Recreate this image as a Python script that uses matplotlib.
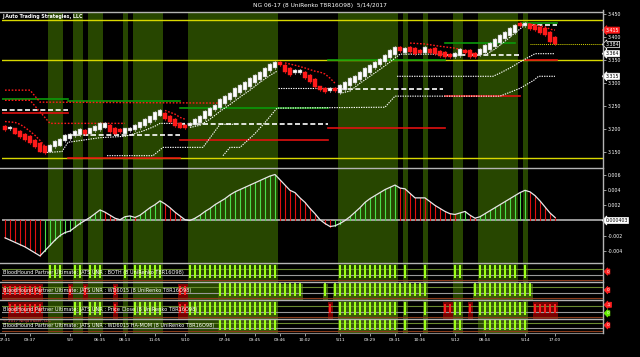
import matplotlib.pyplot as plt
from matplotlib.lines import Line2D

W, H = 640, 357

title = "NG 06-17 (8 UniRenko T8R16O98)  5/14/2017"
brand = "J Auto Trading Strategies, LLC"

# UniRenko bars
opens = [3.207, 3.200, 3.202, 3.196, 3.191, 3.185, 3.178, 3.170, 3.163, 3.152,
         3.161, 3.165, 3.174, 3.180, 3.185, 3.187, 3.198, 3.189, 3.196, 3.198,
         3.204, 3.209, 3.204, 3.200, 3.191, 3.196, 3.198, 3.202, 3.207, 3.213,
         3.220, 3.230, 3.235, 3.230, 3.222, 3.213, 3.209, 3.207, 3.209, 3.213,
         3.222, 3.230, 3.241, 3.246, 3.254, 3.263, 3.270, 3.278, 3.285, 3.291,
         3.300, 3.307, 3.313, 3.326, 3.333, 3.346, 3.339, 3.333, 3.322, 3.322,
         3.324, 3.317, 3.309, 3.293, 3.289, 3.283, 3.289, 3.278, 3.285, 3.293,
         3.300, 3.307, 3.313, 3.322, 3.333, 3.339, 3.346, 3.354, 3.361, 3.378,
         3.365, 3.378, 3.376, 3.372, 3.365, 3.374, 3.376, 3.370, 3.367, 3.363,
         3.357, 3.359, 3.372, 3.372, 3.365, 3.361, 3.365, 3.372, 3.378, 3.387,
         3.396, 3.402, 3.409, 3.430, 3.424, 3.428, 3.426, 3.422, 3.420, 3.411,
         3.400]
closes = [3.198, 3.206, 3.191, 3.183, 3.176, 3.170, 3.161, 3.152, 3.148, 3.167,
          3.174, 3.180, 3.187, 3.191, 3.196, 3.200, 3.189, 3.202, 3.207, 3.213,
          3.213, 3.194, 3.191, 3.194, 3.202, 3.204, 3.209, 3.215, 3.222, 3.228,
          3.237, 3.243, 3.222, 3.215, 3.207, 3.204, 3.202, 3.213, 3.222, 3.230,
          3.239, 3.246, 3.252, 3.265, 3.272, 3.278, 3.289, 3.296, 3.302, 3.311,
          3.317, 3.324, 3.333, 3.341, 3.346, 3.340, 3.324, 3.317, 3.328, 3.328,
          3.311, 3.302, 3.291, 3.285, 3.280, 3.289, 3.283, 3.296, 3.302, 3.311,
          3.315, 3.324, 3.333, 3.339, 3.346, 3.352, 3.361, 3.372, 3.378, 3.369,
          3.376, 3.367, 3.363, 3.365, 3.378, 3.365, 3.363, 3.359, 3.357, 3.357,
          3.365, 3.374, 3.365, 3.357, 3.357, 3.374, 3.383, 3.387, 3.396, 3.404,
          3.411, 3.420, 3.426, 3.424, 3.431, 3.417, 3.415, 3.409, 3.404, 3.389,
          3.384]

# oscillator (x 1e-4)
osc = [-23, -26, -29, -32, -35, -39, -43, -47, -40, -33, -26,
       -20, -16, -14, -9, -4, 0, 4, 9, 14, 11,
       7, 3, 1, 5, 6, 4, 7, 12, 17, 21, 26, 22, 17, 11, 6, 1,
       0, 3, 7, 12, 16, 21, 25, 29, 34, 38, 41, 44, 47, 50, 53, 56, 59, 61,
       54, 47, 40, 37, 30, 24, 16, 9,
       1, -4, -8, -7, -4, 0,
       5, 11, 17, 24, 29, 33, 37, 41, 44, 47,
       43, 42, 36, 30, 30, 30, 25, 20, 16, 12, 9, 8, 10, 12, 7, 3, 5,
       9, 13, 17, 21, 25, 29, 33, 37, 40, 38, 33, 26, 18, 10, 4]

# horizontal levels: (first bar, last bar, price)
yellow_levels = [3.437, 3.350, 3.139]
green_levels = [(-0.6, 12.6, 3.265), (12.6, 35, 3.262), (35, 64.6, 3.246),
                (64.6, 88, 3.350), (88, 102, 3.387), (103.4, 110.4, 3.430)]
white_levels = [(-0.6, 12.6, 3.243), (12.6, 35, 3.187), (35, 64.6, 3.211),
                (67, 87.6, 3.287), (88, 103, 3.361), (103.4, 110.4, 3.426)]
red_levels = [(-0.6, 12.6, 3.235), (12.6, 35, 3.139), (35, 64.6, 3.178),
              (64.6, 88, 3.202), (88, 103, 3.272), (104, 110.4, 3.350)]

# trailing stops: lists of (bar, price)
red_trails = [
    [(0, 3.285), (5, 3.285), (7, 3.259), (43, 3.257)],
    [(0, 3.263), (5, 3.263), (9, 3.213), (24, 3.213)],
    [(0, 3.217), (2, 3.215), (3, 3.211), (4, 3.204), (5, 3.196), (6, 3.187), (7, 3.176), (8, 3.163)],
    [(32, 3.241), (33, 3.237), (34, 3.233), (35, 3.226), (36, 3.222)],
    [(56, 3.344), (58, 3.339), (60, 3.333), (62, 3.326), (63, 3.324), (64, 3.320), (65, 3.311), (66, 3.300)],
    [(81, 3.387), (84, 3.385), (87, 3.380), (90, 3.376), (94, 3.363)],
    [(104, 3.430), (106, 3.426), (108, 3.422), (109, 3.417), (110, 3.415)],
]
white_trails = [
    [(8.4, 3.150), (11.4, 3.152), (12.6, 3.172), (19, 3.182), (24, 3.185), (26, 3.191),
     (28, 3.198), (30, 3.207), (31, 3.213), (36, 3.213)],
    [(20.4, 3.143), (29.6, 3.143), (31.6, 3.161), (39.6, 3.161), (43, 3.211), (45.6, 3.211)],
    [(37, 3.204), (39, 3.209), (41, 3.222), (43, 3.239), (45, 3.254), (47, 3.270),
     (49, 3.285), (51, 3.302), (53, 3.317), (54.4, 3.326)],
    [(43.6, 3.143), (45, 3.161), (47, 3.161), (50, 3.191), (52, 3.215), (54.4, 3.246),
     (76, 3.248), (78, 3.272), (99, 3.272), (103, 3.289), (105.7, 3.306), (106.7, 3.315), (110, 3.315)],
    [(54.6, 3.289), (67, 3.289)],
    [(67, 3.278), (69, 3.283), (71, 3.300), (73, 3.315), (75, 3.330), (77, 3.346), (79, 3.363), (88, 3.363)],
    [(78.4, 3.315), (97.6, 3.315), (99, 3.322), (101, 3.333), (103, 3.346), (106, 3.364), (110, 3.364)],
    [(96, 3.361), (98, 3.374), (100, 3.391), (102, 3.409), (104, 3.426)],
]

price_ticks = [3.450, 3.400, 3.350, 3.300, 3.250, 3.200, 3.150]
osc_ticks = [0.006, 0.004, 0.002, -0.002, -0.004]

# bars where BOTH is long (green columns)
both_up = [(9, 11), (14, 15), (17, 19), (24, 24), (26, 31), (37, 54), (67, 78),
           (80, 80), (84, 84), (90, 91), (95, 102), (104, 104)]

row_names = ["BloodHound Partner Ultimate: JATS UNR : BOTH (8 UniRenko T8R16O98)",
             "BloodHound Partner Ultimate: JATS UNR : WD6015 (8 UniRenko T8R16O98)",
             "BloodHound Partner Ultimate: JATS UNR : Price Close (8 UniRenko T8R16O98)",
             "BloodHound Partner Ultimate: JATS UNR : WD6015 HA-MOM (8 UniRenko T8R16O98)"]
rows_up = [both_up,
           [(43, 59), (64, 64), (66, 84), (94, 105)],
           [(14, 15), (17, 19), (26, 31), (37, 54), (67, 78), (80, 80), (84, 84), (90, 91), (95, 104)],
           [(43, 54), (67, 78), (80, 80), (84, 84), (90, 91), (96, 104)]]
rows_dn = [[],
           [(0, 7), (13, 13), (16, 16), (22, 22), (35, 36)],
           [(1, 7), (22, 22), (35, 36), (65, 65), (88, 89), (93, 93), (106, 110)],
           []]
row_tags = [[("0", "#ff2020")], [("0", "#ff2020")], [("0", "#66ee00"), ("-1", "#ff2020")], [("0", "#ff2020")]]

time_pos = [0, 5, 13, 19, 24, 30, 36, 44, 50, 55, 60, 67, 73, 78, 83, 90, 96, 104, 110]
time_lab = ["07:31", "09:37", "5/9", "06:35", "08:13", "11:05", "5/10", "07:36", "09:45",
            "09:46", "10:02", "5/11", "09:29", "09:31", "10:36", "5/12", "08:04", "5/14", "17:00"]

SHADE = "#274600"
LIME = "#9cff1a"
GRID = "#b4b4b4"

fig = plt.figure(figsize=(W / 100, H / 100), dpi=100, facecolor="black")


def add_px(y0, y1):
    ax = fig.add_axes([2 / W, 1 - y1 / H, 601 / W, (y1 - y0) / H])
    ax.set_facecolor("black")
    ax.set_xlim(-0.6, 119.6)
    for s in ax.spines.values():
        s.set_visible(False)
    ax.set_xticks([])
    ax.set_yticks([])
    for a, b in both_up:
        ax.axvspan(a - 0.5, b + 0.5, color=SHADE, lw=0, zorder=0)
    return ax


def hline_px(y, x0=0, x1=603, color=GRID, lw=1.0):
    fig.add_artist(Line2D([x0 / W, x1 / W], [1 - y / H, 1 - y / H], color=color, lw=lw))


def tag(ax, y, text, fc, tc, ec=None):
    ax.text(1.004, y, text, transform=ax.get_yaxis_transform(), fontsize=3.4, color=tc,
            va="center", ha="left",
            bbox=dict(boxstyle="larrow,pad=0.12", fc=fc, ec=ec or fc, lw=0.5))


# ---- price panel
ax = add_px(12, 167.5)
ax.set_ylim(3.1174, 3.4543)
for p in yellow_levels:
    ax.axhline(p, color="#d8d800", lw=1.0, zorder=1)
for a, b, p in green_levels:
    ax.plot([a, b], [p, p], color="#0a9a0a", lw=1.2, zorder=2)
for a, b, p in red_levels:
    ax.plot([a, b], [p, p], color="#e01010", lw=1.2, zorder=2)
for a, b, p in white_levels:
    ax.plot([a, b], [p, p], color="white", lw=1.2, ls=(0, (3, 1.6)), zorder=3)
for tr in red_trails:
    ax.plot([t[0] for t in tr], [t[1] for t in tr], color="#ff1a1a", lw=1.0,
            ls=(0, (1.2, 1.2)), zorder=3)
for tr in white_trails:
    ax.plot([t[0] for t in tr], [t[1] for t in tr], color="white", lw=0.8,
            ls=(0, (1.2, 1.0)), zorder=3)
ax.plot([105, 119.6], [closes[-1], closes[-1]], color="#d8d800", lw=0.7, ls=(0, (1, 1)), zorder=3)
for i, (o, c) in enumerate(zip(opens, closes)):
    up = c >= o
    ax.plot([i, i], [min(o, c) - 0.002, max(o, c) + 0.002], color="#c8c8c8" if up else "#ff1a1a",
            lw=0.5, zorder=3.5)
    ax.bar(i, abs(c - o), bottom=min(o, c), width=0.7,
           color="white" if up else "#ff1a1a", edgecolor="#909090" if up else "#ff1a1a",
           lw=0.3, zorder=4)
ax.yaxis.tick_right()
ax.set_yticks(price_ticks)
ax.set_yticklabels([f"{t:.3f}" for t in price_ticks])
ax.tick_params(axis="y", colors=GRID, labelcolor="white", labelsize=3.4, length=2, width=0.6, pad=1.5)
tag(ax, 3.415, "3.415", "#ff1a1a", "white")
tag(ax, 3.384, "3.384", "black", "white", "white")
tag(ax, 3.364, "3.364", "white", "black")
tag(ax, 3.315, "3.315", "white", "black")

# ---- oscillator panel
ax2 = add_px(167.5, 263)
ax2.set_ylim(-0.00564, 0.00703)
vals = [v * 1e-4 for v in osc]
for i, v in enumerate(vals):
    rising = i > 0 and v > vals[i - 1]
    ax2.plot([i, i], [0, v], color="#4ade4a" if rising else "#e01010", lw=0.8, zorder=2)
ax2.axhline(0, color=GRID, lw=1.2, zorder=1)
ax2.plot(range(len(vals)), vals, color="#e8e8e8", lw=0.9, zorder=3)
ax2.yaxis.tick_right()
ax2.set_yticks(osc_ticks)
ax2.set_yticklabels([f"{t:.3f}" for t in osc_ticks])
ax2.tick_params(axis="y", colors=GRID, labelcolor="white", labelsize=3.4, length=2, width=0.6, pad=1.5)
tag(ax2, 0.0, "0.000403", "white", "black")

# ---- indicator rows
bounds = [(263, 282), (282, 300), (300, 319), (319, 333)]
for k, (y0, y1) in enumerate(bounds):
    r = add_px(y0, y1)
    r.set_ylim(1, 0)
    if k > 0:
        for a, b in rows_up[k]:
            r.axvspan(a - 0.5, b + 0.5, ymin=0.0, ymax=0.9, color="#3c5a0a", lw=0, zorder=0.5)
    for a, b in rows_dn[k]:
        r.axvspan(a - 0.5, b + 0.5, ymin=0.0, ymax=0.9, color="#7a0000", lw=0, zorder=0.5)
    r.axhline(0.3, color="#6a8a30", lw=0.8, zorder=1)
    r.axhline(0.62, color="#9a9a9a", lw=0.8, zorder=1)
    r.axhline(0.88, color="#8a3a1a", lw=0.8, zorder=1)
    for a, b in rows_up[k]:
        for i in range(a, b + 1):
            r.bar(i, 0.72, bottom=0.08, width=0.48, color=LIME, lw=0, zorder=2)
    for a, b in rows_dn[k]:
        for i in range(a, b + 1):
            r.bar(i, 0.5, bottom=0.2, width=0.45, color="#ff2020", lw=0, zorder=2)
    r.text(0.002, 0.52, row_names[k], transform=r.transAxes, fontsize=3.6, color="white",
           va="center", ha="left", zorder=5)
    for j, (t, c) in enumerate(row_tags[k]):
        r.text(1.006, 0.3 + 0.45 * j if len(row_tags[k]) > 1 else 0.55, t,
               transform=r.transAxes, fontsize=3.2, color="white", va="center", ha="left",
               bbox=dict(boxstyle="larrow,pad=0.12", fc=c, ec=c, lw=0.5))
    if k == 3:
        r.set_xticks(time_pos)
        r.set_xticklabels(time_lab)
        r.tick_params(axis="x", colors=GRID, labelcolor="white", labelsize=3.1, length=2,
                      width=0.6, pad=1.5)
        r.text(0.002, 0.88, "\u00a9 2017 NinjaTrader, LLC", transform=r.transAxes, fontsize=2.8,
               color="#ff4040", va="center", ha="left", zorder=5)

# ---- frame lines
for y in [11.5, 167.5, 263, 282, 300, 319]:
    hline_px(y)
hline_px(333, color="#808080", lw=0.8)
fig.add_artist(Line2D([603 / W, 603 / W], [1 - 333 / H, 1 - 10 / H], color=GRID, lw=1.0))

fig.text(320 / W, 1 - 6 / H, title, color="white", fontsize=4.2, ha="center", va="center")
fig.text(2 / W, 1 - 16.5 / H, brand, color="white", fontsize=3.4, fontweight="bold",
         ha="left", va="center")

fig.savefig("out.png", dpi=100, facecolor="black")
